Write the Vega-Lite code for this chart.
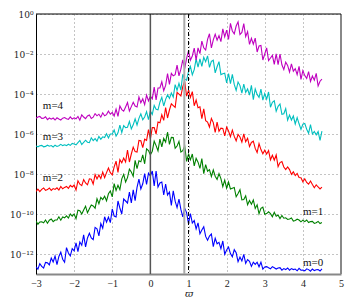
{
"$schema":"https://vega.github.io/schema/vega-lite/v6.json",
"width":305,"height":260,
"autosize":{"type":"none"},
"padding":{"left":36,"top":14,"right":13,"bottom":30},
"config":{"view":{"stroke":null},"font":"Liberation Serif","axis":{"labelOverlap":false,"labelBound":false,"labelFlush":false}},
"datasets":{"curves":[
{"x":-3,"a":-12.64,"b":-10.35,"c":-8.87,"d":-6.6,"e":-5.21},
{"x":-2.95,"a":-12.76,"b":-10.51,"c":-8.76,"d":-6.64,"e":-5.15},
{"x":-2.9,"a":-12.48,"b":-10.4,"c":-8.88,"d":-6.59,"e":-5.12},
{"x":-2.85,"a":-12.62,"b":-10.39,"c":-8.77,"d":-6.57,"e":-5.22},
{"x":-2.8,"a":-12.7,"b":-10.44,"c":-8.7,"d":-6.64,"e":-5.21},
{"x":-2.75,"a":-12.42,"b":-10.3,"c":-8.82,"d":-6.62,"e":-5.14},
{"x":-2.7,"a":-12.44,"b":-10.46,"c":-8.78,"d":-6.56,"e":-5.28},
{"x":-2.65,"a":-12.54,"b":-10.31,"c":-8.7,"d":-6.61,"e":-5.2},
{"x":-2.6,"a":-12.2,"b":-10.25,"c":-8.82,"d":-6.58,"e":-5.26},
{"x":-2.55,"a":-12.4,"b":-10.38,"c":-8.73,"d":-6.65,"e":-5.2},
{"x":-2.5,"a":-12.1,"b":-10.3,"c":-8.77,"d":-6.56,"e":-5.3},
{"x":-2.45,"a":-12.53,"b":-10.3,"c":-8.69,"d":-6.62,"e":-5.19},
{"x":-2.4,"a":-12.12,"b":-10.14,"c":-8.8,"d":-6.59,"e":-5.25},
{"x":-2.35,"a":-11.91,"b":-10.31,"c":-8.62,"d":-6.52,"e":-5.3},
{"x":-2.3,"a":-12.26,"b":-10.15,"c":-8.74,"d":-6.58,"e":-5.21},
{"x":-2.25,"a":-12.41,"b":-10.19,"c":-8.67,"d":-6.54,"e":-5.18},
{"x":-2.2,"a":-11.68,"b":-10.09,"c":-8.62,"d":-6.58,"e":-5.24},
{"x":-2.15,"a":-11.95,"b":-10.2,"c":-8.72,"d":-6.51,"e":-5.27},
{"x":-2.1,"a":-12.1,"b":-10,"c":-8.57,"d":-6.57,"e":-5.14},
{"x":-2.05,"a":-11.73,"b":-10.11,"c":-8.65,"d":-6.47,"e":-5.25},
{"x":-2,"a":-11.84,"b":-10,"c":-8.55,"d":-6.5,"e":-5.19},
{"x":-1.95,"a":-11.44,"b":-10.23,"c":-8.8,"d":-6.54,"e":-5.24},
{"x":-1.9,"a":-11.88,"b":-9.81,"c":-8.34,"d":-6.43,"e":-5.12},
{"x":-1.85,"a":-11.4,"b":-9.84,"c":-8.51,"d":-6.32,"e":-5.31},
{"x":-1.8,"a":-11.56,"b":-10,"c":-8.58,"d":-6.53,"e":-5.04},
{"x":-1.75,"a":-11.04,"b":-9.8,"c":-8.28,"d":-6.42,"e":-5.15},
{"x":-1.7,"a":-11.64,"b":-9.61,"c":-8.45,"d":-6.31,"e":-5.23},
{"x":-1.65,"a":-11.2,"b":-9.94,"c":-8.54,"d":-6.41,"e":-5.1},
{"x":-1.6,"a":-10.96,"b":-9.74,"c":-8.24,"d":-6.43,"e":-5.05},
{"x":-1.55,"a":-11.2,"b":-9.55,"c":-8.26,"d":-6.19,"e":-5.22},
{"x":-1.5,"a":-11.28,"b":-9.6,"c":-8.5,"d":-6.33,"e":-5.16},
{"x":-1.45,"a":-10.67,"b":-9.71,"c":-8.03,"d":-6.23,"e":-4.98},
{"x":-1.4,"a":-10.74,"b":-9.24,"c":-8.25,"d":-6.36,"e":-5.09},
{"x":-1.35,"a":-11.09,"b":-9.49,"c":-8.05,"d":-6.12,"e":-5.01},
{"x":-1.3,"a":-10.48,"b":-9.17,"c":-8.23,"d":-6.26,"e":-5.16},
{"x":-1.25,"a":-10.71,"b":-9.28,"c":-7.9,"d":-6.14,"e":-4.94},
{"x":-1.2,"a":-10.14,"b":-9.11,"c":-8.18,"d":-6.18,"e":-5.09},
{"x":-1.15,"a":-10.41,"b":-9.34,"c":-7.93,"d":-5.99,"e":-5.03},
{"x":-1.1,"a":-10.16,"b":-8.99,"c":-7.7,"d":-6.2,"e":-4.85},
{"x":-1.05,"a":-10.43,"b":-8.85,"c":-7.93,"d":-6,"e":-5.01},
{"x":-1,"a":-9.75,"b":-9.14,"c":-8.04,"d":-6,"e":-4.92},
{"x":-0.95,"a":-10.1,"b":-8.48,"c":-7.64,"d":-5.8,"e":-5.1},
{"x":-0.9,"a":-10.15,"b":-8.82,"c":-7.36,"d":-6.11,"e":-4.76},
{"x":-0.85,"a":-9.35,"b":-8.56,"c":-7.92,"d":-5.94,"e":-5.12},
{"x":-0.8,"a":-9.7,"b":-8.78,"c":-7.28,"d":-5.56,"e":-4.6},
{"x":-0.75,"a":-10,"b":-8.24,"c":-7.44,"d":-5.93,"e":-4.78},
{"x":-0.7,"a":-9.25,"b":-8.02,"c":-7.2,"d":-5.58,"e":-4.86},
{"x":-0.65,"a":-9.35,"b":-8.4,"c":-7.4,"d":-5.68,"e":-4.65},
{"x":-0.6,"a":-9.45,"b":-8.18,"c":-6.8,"d":-5.66,"e":-4.43},
{"x":-0.55,"a":-8.9,"b":-7.76,"c":-7.4,"d":-5.37,"e":-4.85},
{"x":-0.5,"a":-9.45,"b":-7.9,"c":-7,"d":-5.74,"e":-4.63},
{"x":-0.45,"a":-8.79,"b":-8.11,"c":-6.66,"d":-5.54,"e":-4.41},
{"x":-0.4,"a":-9.33,"b":-7.32,"c":-6.88,"d":-5.24,"e":-4.6},
{"x":-0.35,"a":-8.67,"b":-7.73,"c":-6.9,"d":-5.55,"e":-4.65},
{"x":-0.3,"a":-8.26,"b":-7.34,"c":-6.32,"d":-5.22,"e":-4.15},
{"x":-0.25,"a":-8.75,"b":-7.39,"c":-6.34,"d":-4.99,"e":-4.44},
{"x":-0.2,"a":-8.49,"b":-7.04,"c":-6.68,"d":-5.29,"e":-4.24},
{"x":-0.15,"a":-7.98,"b":-7.49,"c":-6.26,"d":-5.15,"e":-4.53},
{"x":-0.1,"a":-8.52,"b":-6.74,"c":-6.32,"d":-4.88,"e":-4.06},
{"x":-0.05,"a":-7.96,"b":-6.83,"c":-5.78,"d":-5.28,"e":-4.35},
{"x":0,"a":-8.1,"b":-7.04,"c":-6.24,"d":-4.86,"e":-4.11},
{"x":0.05,"a":-7.85,"b":-6.86,"c":-5.68,"d":-5.02,"e":-4.24},
{"x":0.1,"a":-8.6,"b":-6.36,"c":-5.68,"d":-4.57,"e":-3.66},
{"x":0.15,"a":-7.85,"b":-6.58,"c":-6,"d":-4.76,"e":-4.29},
{"x":0.2,"a":-8.65,"b":-6.84,"c":-5.4,"d":-4.79,"e":-3.7},
{"x":0.25,"a":-8.45,"b":-6.26,"c":-5.44,"d":-4.41,"e":-3.7},
{"x":0.3,"a":-8.4,"b":-6.64,"c":-5.04,"d":-4.17,"e":-3.39},
{"x":0.35,"a":-9.05,"b":-6.22,"c":-5.32,"d":-4.6,"e":-3.84},
{"x":0.4,"a":-8.5,"b":-6.4,"c":-4.68,"d":-4.27,"e":-3.57},
{"x":0.45,"a":-9.05,"b":-5.9,"c":-5.2,"d":-4.04,"e":-2.98},
{"x":0.5,"a":-8.9,"b":-6.52,"c":-4.8,"d":-4.22,"e":-3.52},
{"x":0.55,"a":-9.57,"b":-6.17,"c":-4.49,"d":-3.95,"e":-2.97},
{"x":0.6,"a":-8.84,"b":-6.18,"c":-4.58,"d":-4.16,"e":-3.09},
{"x":0.65,"a":-9.36,"b":-6.71,"c":-4.67,"d":-3.53,"e":-3.03},
{"x":0.7,"a":-9.68,"b":-6.6,"c":-3.92,"d":-3.82,"e":-2.56},
{"x":0.75,"a":-9.25,"b":-6.37,"c":-4.01,"d":-3.47,"e":-3.09},
{"x":0.8,"a":-9.77,"b":-6.9,"c":-4.1,"d":-3.8,"e":-2.76},
{"x":0.85,"a":-10.14,"b":-6.83,"c":-3.63,"d":-3.01,"e":-2.29},
{"x":0.9,"a":-9.71,"b":-6.6,"c":-3.36,"d":-3.26,"e":-2.73},
{"x":0.95,"a":-9.93,"b":-7.37,"c":-4.11,"d":-3.31,"e":-2.22},
{"x":1,"a":-10.48,"b":-7.02,"c":-3.82,"d":-2.88,"e":-1.84},
{"x":1.05,"a":-9.98,"b":-7.29,"c":-4.17,"d":-2.62,"e":-2.31},
{"x":1.1,"a":-10.45,"b":-7,"c":-3.88,"d":-3.04,"e":-2.1},
{"x":1.15,"a":-10.33,"b":-7.59,"c":-4.59,"d":-2.78,"e":-1.71},
{"x":1.2,"a":-10.74,"b":-7.22,"c":-4.3,"d":-2.24,"e":-2.31},
{"x":1.25,"a":-10.44,"b":-7.41,"c":-4.69,"d":-2.66,"e":-1.69},
{"x":1.3,"a":-10.99,"b":-7.72,"c":-4.64,"d":-2.24,"e":-1.98},
{"x":1.35,"a":-10.8,"b":-7.23,"c":-5.23,"d":-2.62,"e":-1.36},
{"x":1.4,"a":-10.64,"b":-7.98,"c":-4.74,"d":-2.16,"e":-1.69},
{"x":1.45,"a":-11.12,"b":-7.53,"c":-5.33,"d":-2.38,"e":-1.8},
{"x":1.5,"a":-11.31,"b":-7.86,"c":-5.4,"d":-2.09,"e":-1.27},
{"x":1.55,"a":-11.1,"b":-7.78,"c":-5.65,"d":-2.67,"e":-0.99},
{"x":1.6,"a":-11,"b":-8.12,"c":-5.22,"d":-2.37,"e":-1.7},
{"x":1.65,"a":-11.63,"b":-7.8,"c":-5.43,"d":-2.31,"e":-1.29},
{"x":1.7,"a":-11.21,"b":-8.11,"c":-5.92,"d":-2.94,"e":-1.01},
{"x":1.75,"a":-11.49,"b":-8.27,"c":-5.41,"d":-2.64,"e":-1.31},
{"x":1.8,"a":-11.42,"b":-7.98,"c":-5.86,"d":-2.38,"e":-1.08},
{"x":1.85,"a":-11.73,"b":-8.23,"c":-5.71,"d":-3.03,"e":-1.38},
{"x":1.9,"a":-11.35,"b":-8.63,"c":-5.72,"d":-2.99,"e":-0.74},
{"x":1.95,"a":-12.01,"b":-8.31,"c":-6.09,"d":-2.96,"e":-1.14},
{"x":2,"a":-11.8,"b":-8.71,"c":-5.66,"d":-3.44,"e":-0.81},
{"x":2.05,"a":-11.65,"b":-8.4,"c":-5.85,"d":-2.98,"e":-1.27},
{"x":2.1,"a":-11.98,"b":-8.75,"c":-6.13,"d":-3.48,"e":-0.47},
{"x":2.15,"a":-12.14,"b":-8.71,"c":-5.81,"d":-3.02,"e":-0.85},
{"x":2.2,"a":-11.78,"b":-8.67,"c":-6.12,"d":-3.52,"e":-0.99},
{"x":2.25,"a":-11.94,"b":-9.14,"c":-6.34,"d":-3.82,"e":-0.6},
{"x":2.3,"a":-12.38,"b":-8.98,"c":-6.02,"d":-3.4,"e":-0.39},
{"x":2.35,"a":-12.15,"b":-8.79,"c":-6.15,"d":-3.58,"e":-1.03},
{"x":2.4,"a":-12.35,"b":-9.29,"c":-6.4,"d":-3.96,"e":-0.92},
{"x":2.45,"a":-12.02,"b":-9.28,"c":-5.99,"d":-3.5,"e":-0.48},
{"x":2.5,"a":-12.47,"b":-9.09,"c":-6.39,"d":-3.92,"e":-1.13},
{"x":2.55,"a":-12.28,"b":-9.54,"c":-6.21,"d":-3.75,"e":-0.88},
{"x":2.6,"a":-12.37,"b":-9.33,"c":-6.63,"d":-4.06,"e":-1.52},
{"x":2.65,"a":-12.62,"b":-9.51,"c":-6.42,"d":-3.57,"e":-1.22},
{"x":2.7,"a":-12.41,"b":-9.3,"c":-6.36,"d":-4.28,"e":-1.51},
{"x":2.75,"a":-12.52,"b":-9.72,"c":-6.72,"d":-3.75,"e":-1.21},
{"x":2.8,"a":-12.41,"b":-9.54,"c":-6.93,"d":-4.02,"e":-1.9},
{"x":2.85,"a":-12.64,"b":-9.99,"c":-6.48,"d":-4.17,"e":-1.6},
{"x":2.9,"a":-12.41,"b":-9.72,"c":-6.78,"d":-3.76,"e":-1.57},
{"x":2.95,"a":-12.76,"b":-9.66,"c":-6.99,"d":-4.31,"e":-2.3},
{"x":3,"a":-12.65,"b":-10.01,"c":-6.81,"d":-3.98,"e":-2},
{"x":3.05,"a":-12.63,"b":-9.98,"c":-7,"d":-4.26,"e":-1.69},
{"x":3.1,"a":-12.69,"b":-9.89,"c":-6.83,"d":-3.9,"e":-2.33},
{"x":3.15,"a":-12.74,"b":-9.98,"c":-7.29,"d":-4.66,"e":-2.2},
{"x":3.2,"a":-12.63,"b":-10.14,"c":-7.06,"d":-4.42,"e":-2.07},
{"x":3.25,"a":-12.69,"b":-9.92,"c":-7.31,"d":-4.34,"e":-2.52},
{"x":3.3,"a":-12.75,"b":-10.11,"c":-7.05,"d":-4.86,"e":-1.99},
{"x":3.35,"a":-12.7,"b":-10.05,"c":-7.63,"d":-4.62,"e":-2.53},
{"x":3.4,"a":-12.68,"b":-10.23,"c":-7.43,"d":-4.5,"e":-2},
{"x":3.45,"a":-12.81,"b":-10.07,"c":-7.38,"d":-5.02,"e":-2.54},
{"x":3.5,"a":-12.73,"b":-10.21,"c":-7.65,"d":-4.99,"e":-2.78},
{"x":3.55,"a":-12.78,"b":-10.19,"c":-7.78,"d":-4.73,"e":-2.41},
{"x":3.6,"a":-12.7,"b":-10.27,"c":-7.65,"d":-5.31,"e":-2.57},
{"x":3.65,"a":-12.81,"b":-10.25,"c":-7.78,"d":-5.05,"e":-2.9},
{"x":3.7,"a":-12.73,"b":-10.2,"c":-8.02,"d":-5.3,"e":-2.49},
{"x":3.75,"a":-12.78,"b":-10.35,"c":-7.89,"d":-5.1,"e":-2.86},
{"x":3.8,"a":-12.75,"b":-10.32,"c":-8.08,"d":-5.5,"e":-2.73},
{"x":3.85,"a":-12.84,"b":-10.26,"c":-7.97,"d":-5.18,"e":-3.03},
{"x":3.9,"a":-12.72,"b":-10.3,"c":-8.18,"d":-5.49,"e":-2.62},
{"x":3.95,"a":-12.81,"b":-10.39,"c":-8.19,"d":-5.77,"e":-3.27},
{"x":4,"a":-12.8,"b":-10.31,"c":-8.39,"d":-5.51,"e":-2.83},
{"x":4.05,"a":-12.84,"b":-10.38,"c":-8.24,"d":-5.47,"e":-3.08},
{"x":4.1,"a":-12.74,"b":-10.3,"c":-8.42,"d":-5.76,"e":-3.22},
{"x":4.15,"a":-12.78,"b":-10.43,"c":-8.51,"d":-5.96,"e":-2.88},
{"x":4.2,"a":-12.86,"b":-10.38,"c":-8.35,"d":-5.53,"e":-3.37},
{"x":4.25,"a":-12.75,"b":-10.37,"c":-8.53,"d":-6,"e":-3.1},
{"x":4.3,"a":-12.83,"b":-10.47,"c":-8.69,"d":-5.87,"e":-3.31},
{"x":4.35,"a":-12.79,"b":-10.44,"c":-8.54,"d":-6.04,"e":-2.97},
{"x":4.4,"a":-12.78,"b":-10.37,"c":-8.65,"d":-5.88,"e":-3.6},
{"x":4.45,"a":-12.85,"b":-10.48,"c":-8.75,"d":-6.32,"e":-3.36},
{"x":4.5,"a":-12.74,"b":-10.43,"c":-8.66,"d":-5.86,"e":-3.26}
],
"labels":[
{"x":-2.82,"v":-4.6,"t":"m=4"},
{"x":-2.82,"v":-6.15,"t":"m=3"},
{"x":-2.82,"v":-8.2,"t":"m=2"},
{"x":4.0,"v":-9.9,"t":"m=1"},
{"x":4.0,"v":-12.45,"t":"m=0"}
]},
"layer":[
{"data":{"name":"curves"},
 "transform":[{"fold":["a","b","c","d","e"],"as":["s","v"]}],
 "mark":{"type":"line","strokeWidth":1.1,"clip":true},
 "encoding":{
  "x":{"field":"x","type":"quantitative","scale":{"domain":[-3,5],"nice":false,"zero":false},
   "axis":{"values":[-3,-2,-1,0,1,2,3,4,5],"format":"d","labelOverlap":false,"grid":true,"gridDash":[1,3],"gridColor":"#888","gridOpacity":1,
    "domainColor":"#888","domainWidth":2,"ticks":false,"labelPadding":4,"labelFontSize":10,"labelColor":"#222","labelFont":"Liberation Serif",
    "title":"ϖ","titleFont":"DejaVu Serif","titleFontStyle":"italic","titleFontWeight":"normal","titleFontSize":10,"titleColor":"#222","titlePadding":0}},
  "y":{"field":"v","type":"quantitative","scale":{"domain":[-13,0],"nice":false,"zero":false},
   "axis":{"values":[-12,-10,-8,-6,-4,-2,0],"labelOverlap":false,"grid":true,"gridDash":[1,3],"gridColor":"#888","gridOpacity":1,
    "domainColor":"#000","domainWidth":1,"ticks":false,"labelPadding":3,"labelFontSize":9,"labelColor":"#222","labelFont":"DejaVu Serif",
    "labelExpr":"datum.value == 0 ? '10⁰' : datum.value == -2 ? '10⁻²' : datum.value == -4 ? '10⁻⁴' : datum.value == -6 ? '10⁻⁶' : datum.value == -8 ? '10⁻⁸' : datum.value == -10 ? '10⁻¹⁰' : '10⁻¹²'",
    "title":null}},
  "color":{"field":"s","type":"nominal","scale":{"domain":["a","b","c","d","e"],"range":["#0000ff","#008000","#ff0000","#00bfbf","#bf00bf"]},"legend":null}
 }},
{"data":{"values":[{"x":0}]},"mark":{"type":"rule","color":"#555","strokeWidth":1.5},
 "encoding":{"x":{"field":"x","type":"quantitative","axis":{"values":[-3,-2,-1,0,1,2,3,4,5],"labelOverlap":false}}}},
{"data":{"values":[{"x":0.89}]},"mark":{"type":"rule","color":"#aaa","strokeWidth":2},
 "encoding":{"x":{"field":"x","type":"quantitative","axis":{"values":[-3,-2,-1,0,1,2,3,4,5],"labelOverlap":false}}}},
{"data":{"values":[{"x":1}]},"mark":{"type":"rule","color":"#000","strokeWidth":1,"strokeDash":[4,2,1,2]},
 "encoding":{"x":{"field":"x","type":"quantitative","axis":{"values":[-3,-2,-1,0,1,2,3,4,5],"labelOverlap":false}}}},
{"data":{"values":[{"x":5}]},"mark":{"type":"rule","color":"#888","strokeWidth":2},
 "encoding":{"x":{"field":"x","type":"quantitative","axis":{"values":[-3,-2,-1,0,1,2,3,4,5],"labelOverlap":false}}}},
{"data":{"values":[{"v":0}]},"mark":{"type":"rule","color":"#000","strokeWidth":1},
 "encoding":{"y":{"field":"v","type":"quantitative"}}},
{"data":{"name":"labels"},"mark":{"type":"text","align":"left","baseline":"middle","font":"Liberation Serif","fontSize":11,"color":"#111"},
 "encoding":{"x":{"field":"x","type":"quantitative","axis":{"values":[-3,-2,-1,0,1,2,3,4,5],"labelOverlap":false}},"y":{"field":"v","type":"quantitative"},"text":{"field":"t"}}}
]
}
